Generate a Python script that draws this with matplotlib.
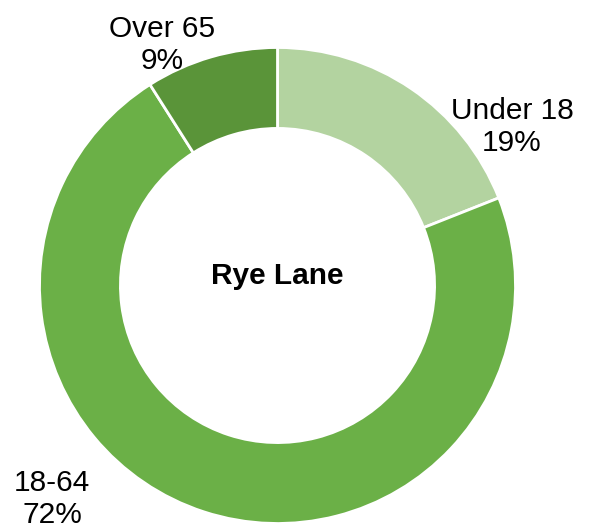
import matplotlib
matplotlib.use("Agg")
import matplotlib.pyplot as plt

# age groups, share of population (%)
groups = ["Under 18", "18-64", "Over 65"]
shares = [19, 72, 9]
colors = ["#b3d3a0", "#6bb047", "#5a9439"]
title = "Rye Lane"

W, H = 594, 532
fig = plt.figure(figsize=(W / 100, H / 100), dpi=100)
ax = fig.add_axes([0, 0, 1, 1])

cx, cy, r = 277.5, H - 285.5, 238
ax.pie(shares, colors=colors, startangle=90, counterclock=False,
       center=(cx, cy), radius=r,
       wedgeprops=dict(width=r * 0.34, edgecolor="white", linewidth=2))

ax.set_xlim(0, W)
ax.set_ylim(0, H)
ax.set_aspect("equal")
ax.axis("off")

font = dict(family=["Liberation Sans", "DejaVu Sans"], fontsize=21.5, color="black")
ax.text(cx, cy + 10, title, ha="center", va="center", fontweight="bold", **font)

# label positions in pixel space (x, y from top)
label_pos = [(512, 127), (52, 499), (162, 45)]
for name, val, (lx, ly) in zip(groups, shares, label_pos):
    ax.text(lx, H - ly, f"{name}\n{val}%", ha="center", va="center",
            linespacing=1.2, **font)

fig.savefig("out.png", dpi=100, facecolor="white")
